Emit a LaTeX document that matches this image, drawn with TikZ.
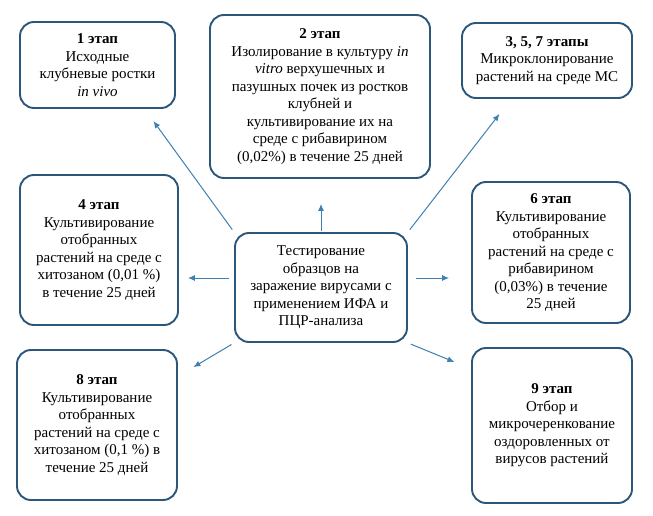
\documentclass[tikz,border=0pt]{standalone}
\usepackage{fontspec}
\setmainfont{Liberation Serif}
\usepackage{xcolor}
\usepackage{tikz}
\usetikzlibrary{arrows.meta,positioning,calc}
\definecolor{stageblue}{RGB}{44,86,122}
\definecolor{arrowblue}{RGB}{62,128,176}

\begin{document}
\begin{tikzpicture}[
    x=1pt, y=-1pt,
    stage/.style={draw=stageblue, line width=1.9pt, rounded corners=14pt, fill=white, align=center, inner sep=2pt, font=\fontsize{15}{17.5}\selectfont},
    flow/.style={-{Latex[length=7pt,width=6pt]}, arrowblue, line width=1pt},
]
    \useasboundingbox (0,0) rectangle (653,516);

    % Centre
    \node[stage, minimum width=172pt, minimum height=109pt] (test) at (321,287.5) {Тестирование\\образцов на\\заражение вирусами с\\применением ИФА и\\ПЦР-анализа};

    % Stages
    \node[stage, minimum width=155pt, minimum height=86pt] (s1) at (97.5,65) {\textbf{1 этап}\\Исходные\\клубневые ростки\\\textit{in vivo}};
    \node[stage, minimum width=220pt, minimum height=163pt] (s2) at (320,96.5) {\textbf{2 этап}\\Изолирование в культуру \textit{in}\\\textit{vitro} верхушечных и\\пазушных почек из ростков\\клубней и\\культивирование их на\\среде с рибавирином\\(0,02\%) в течение 25 дней};
    \node[stage, minimum width=170pt, minimum height=75pt] (s3) at (547,60.5) {\textbf{3, 5, 7 этапы}\\Микроклонирование\\растений на среде МС};
    \node[stage, minimum width=158pt, minimum height=150pt] (s4) at (99,250) {\textbf{4 этап}\\Культивирование\\отобранных\\растений на среде с\\хитозаном (0,01 \%)\\в течение 25 дней};
    \node[stage, minimum width=158pt, minimum height=141pt] (s6) at (551,252.5) {\textbf{6 этап}\\Культивирование\\отобранных\\растений на среде с\\рибавирином\\(0,03\%) в течение\\25 дней};
    \node[stage, minimum width=160pt, minimum height=150pt] (s8) at (97,425) {\textbf{8 этап}\\Культивирование\\отобранных\\растений на среде с\\хитозаном (0,1 \%) в\\течение 25 дней};
    \node[stage, minimum width=160pt, minimum height=155pt] (s9) at (552,425.5) {\textbf{9 этап}\\Отбор и\\микрочеренкование\\оздоровленных от\\вирусов растений};

    % Arrows
    \draw[flow, shorten <=3pt, shorten >=15pt] (test.north west) -- (s1.-43);
    \draw[flow, shorten <=1pt, shorten >=25pt] (test.north) -- (test.north |- s2.south);
    \draw[flow, shorten <=3pt, shorten >=19pt] (test.north east) -- (s3.-133);
    \draw[flow, shorten <=5pt, shorten >=9pt] ([yshift=9.5pt]test.west) -- ([yshift=9.5pt]test.west -| s4.east);
    \draw[flow, shorten <=8pt, shorten >=22pt] ([yshift=9.5pt]test.east) -- ([yshift=9.5pt]test.east -| s6.west);
    \draw[flow, shorten <=3pt, shorten >=18pt] (test.south west) -- (s8.31);
    \draw[flow, shorten <=3pt, shorten >=18pt] (test.south east) -- (s9.145);
\end{tikzpicture}
\end{document}
